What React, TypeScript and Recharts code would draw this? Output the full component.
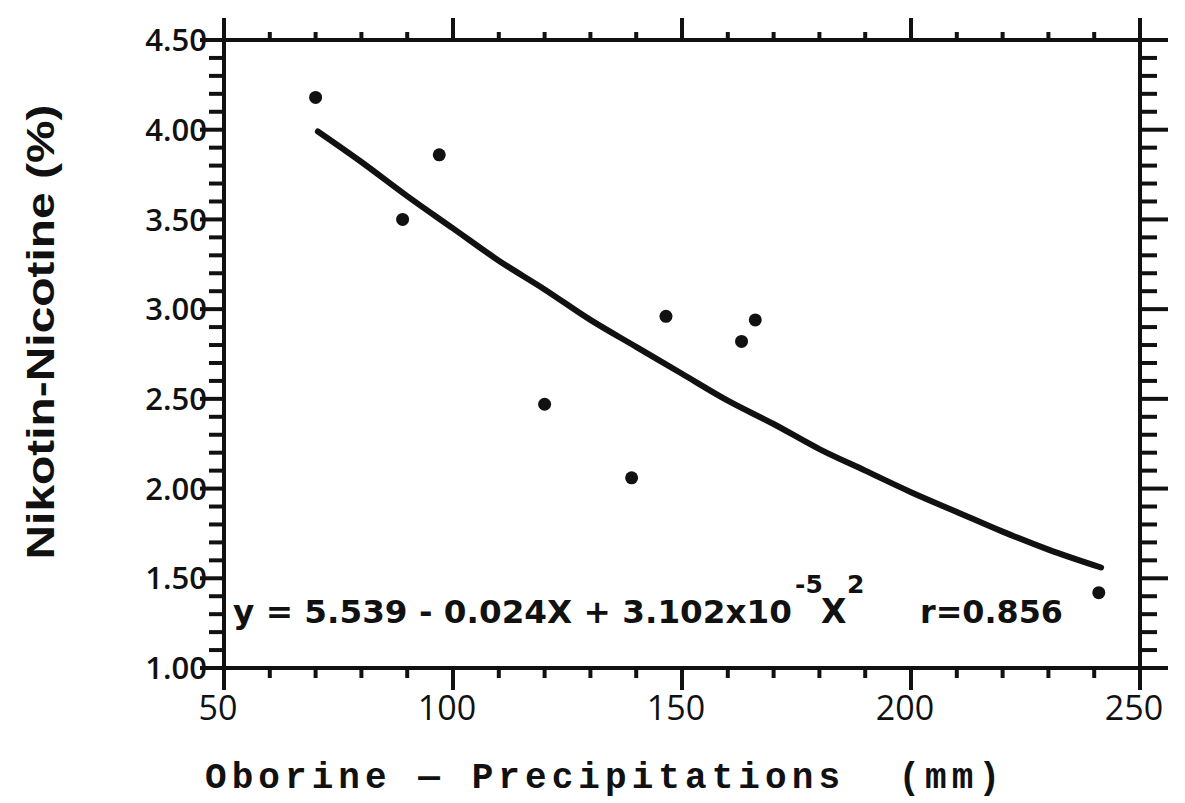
import { ComposedChart, Scatter, Line, XAxis, YAxis } from 'recharts'

// observed points: precipitation (mm) vs nicotine (%)
const precipitation = [70, 89, 97, 120, 139, 146.5, 163, 166, 241]
const nicotine = [4.18, 3.5, 3.86, 2.47, 2.06, 2.96, 2.82, 2.94, 1.42]

// fitted curve
const fitX = [70.5, 80, 90, 100, 110, 120, 130, 140, 150, 160, 170, 180, 190, 200, 210, 220, 230, 241.5]
const fitY = [3.99, 3.82, 3.63, 3.45, 3.27, 3.11, 2.94, 2.79, 2.64, 2.49, 2.36, 2.22, 2.1, 1.98, 1.87, 1.76, 1.66, 1.56]

const xTicks = [50, 60, 70, 80, 90, 100, 110, 120, 130, 140, 150, 160, 170, 180, 190, 200, 210, 220, 230, 240, 250]
const yTicks = Array.from({ length: 36 }, (_, i) => Math.round((1 + i * 0.1) * 10) / 10)

const points = precipitation.map((x, i) => ({ x, y: nicotine[i] }))
const fit = fitX.map((x, i) => ({ x, y: fitY[i] }))

const INK = '#111'
const isMajorX = (v: number) => v % 50 === 0
const isMajorY = (v: number) => Math.abs(v * 2 - Math.round(v * 2)) < 1e-6

const LeftTick = ({ x, y, payload }: any) => {
  const major = isMajorY(payload.value)
  return (
    <g>
      <line x1={x} x2={x - (major ? 24 : 15)} y1={y} y2={y} stroke={INK} strokeWidth={4} />
      {major && (
        <text x={x - 17} y={y} dy="0.36em" textAnchor="end" fill={INK}
          style={{ fontFamily: 'Open Sans', fontWeight: 600, fontSize: 31 }}>
          {payload.value.toFixed(2)}
        </text>
      )}
    </g>
  )
}

const RightTick = ({ x, y, payload }: any) => {
  const major = isMajorY(payload.value)
  return <line x1={x} x2={x + (major ? 28 : 17)} y1={y} y2={y} stroke={INK} strokeWidth={4} />
}

const TopTick = ({ x, y, payload }: any) => {
  const major = isMajorX(payload.value)
  return <line x1={x} x2={x} y1={y} y2={y - (major ? 22 : 8)} stroke={INK} strokeWidth={4} />
}

const BottomTick = ({ x, y, payload }: any) => {
  const major = isMajorX(payload.value)
  return (
    <g>
      <line x1={x} x2={x} y1={y} y2={y + (major ? 22 : 10)} stroke={INK} strokeWidth={4} />
      {major && (
        <text x={x - 6} y={y + 52} textAnchor="middle" fill={INK}
          style={{ fontFamily: 'Open Sans', fontSize: 34 }}>
          {payload.value}
        </text>
      )}
    </g>
  )
}

const Dot = ({ cx, cy }: any) => <circle cx={cx} cy={cy} r={6.5} fill={INK} />

export default function App() {
  return (
    <div style={{ position: 'absolute', left: 0, top: 0, background: '#fff' }}>
      <ComposedChart width={1185} height={803} margin={{ top: 0, right: 0, bottom: 0, left: 0 }}>
        <XAxis xAxisId="bottom" dataKey="x" type="number" domain={[50, 250]} ticks={xTicks} interval={0}
          height={135} tickSize={0} tickMargin={0} tickLine={false} tick={<BottomTick />}
          axisLine={{ stroke: INK, strokeWidth: 4 }} allowDataOverflow />
        <XAxis xAxisId="top" orientation="top" dataKey="x" type="number" domain={[50, 250]} ticks={xTicks}
          interval={0} height={40} tickSize={0} tickMargin={0} tickLine={false} tick={<TopTick />}
          axisLine={{ stroke: INK, strokeWidth: 4 }} allowDataOverflow />
        <YAxis yAxisId="left" type="number" domain={[1, 4.5]} ticks={yTicks} interval={0} width={224}
          tickSize={0} tickMargin={0} tickLine={false} tick={<LeftTick />}
          axisLine={{ stroke: INK, strokeWidth: 4 }} allowDataOverflow />
        <YAxis yAxisId="right" orientation="right" type="number" domain={[1, 4.5]} ticks={yTicks} interval={0}
          width={45} tickSize={0} tickMargin={0} tickLine={false} tick={<RightTick />}
          axisLine={{ stroke: INK, strokeWidth: 4 }} allowDataOverflow />
        <Line xAxisId="bottom" yAxisId="left" data={fit} dataKey="y" type="monotone" stroke={INK}
          strokeWidth={6} strokeLinecap="round" dot={false} activeDot={false} isAnimationActive={false} />
        <Scatter xAxisId="bottom" yAxisId="left" data={points} dataKey="y" shape={<Dot />}
          isAnimationActive={false} />
        <text x={233} y={623} textLength={559} lengthAdjust="spacingAndGlyphs" fill={INK}
          style={{ fontFamily: 'DejaVu Sans', fontWeight: 'bold', fontSize: 32 }}>
          y = 5.539 - 0.024X + 3.102x10
        </text>
        <text x={795} y={593} fill={INK} style={{ fontFamily: 'DejaVu Sans', fontWeight: 'bold', fontSize: 25 }}>-5</text>
        <text x={821} y={623} fill={INK} style={{ fontFamily: 'DejaVu Sans', fontWeight: 'bold', fontSize: 33 }}>X</text>
        <text x={847} y={593} fill={INK} style={{ fontFamily: 'DejaVu Sans', fontWeight: 'bold', fontSize: 25 }}>2</text>
        <text x={920} y={623} textLength={143} lengthAdjust="spacingAndGlyphs" fill={INK}
          style={{ fontFamily: 'DejaVu Sans', fontWeight: 'bold', fontSize: 32 }}>
          r=0.856
        </text>
        <text x={54} y={332} transform="rotate(-90, 54, 332)" textAnchor="middle" textLength={455}
          lengthAdjust="spacingAndGlyphs" fill={INK}
          style={{ fontFamily: 'Liberation Sans', fontWeight: 'bold', fontSize: 38 }}>
          Nikotin-Nicotine (%)
        </text>
        <text x={205} y={788} textLength={795} lengthAdjust="spacing" fill={INK}
          style={{ fontFamily: 'Liberation Mono', fontWeight: 'bold', fontSize: 36, whiteSpace: 'pre' }}>
          {'Oborine — Precipitations  (mm)'}
        </text>
      </ComposedChart>
    </div>
  )
}
